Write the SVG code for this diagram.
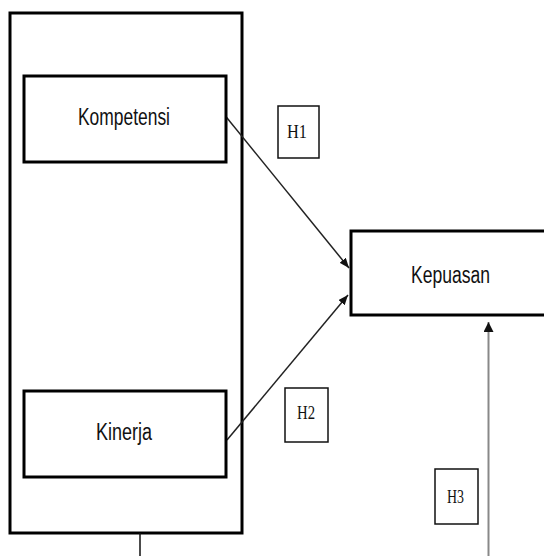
<svg xmlns="http://www.w3.org/2000/svg" width="544" height="556" viewBox="0 0 544 556">
<defs>
<marker id="ah" markerWidth="10" markerHeight="8" refX="10" refY="4" orient="auto" markerUnits="userSpaceOnUse">
<path d="M0,0 L10,4 L0,8 z" fill="#111"/>
</marker>
<marker id="ahg" markerWidth="10" markerHeight="10" refX="10" refY="5" orient="auto" markerUnits="userSpaceOnUse">
<path d="M0,0 L10,5 L0,10 z" fill="#111"/>
</marker>
<style>
.big{fill:#fff;stroke:#000;stroke-width:3}
.h{fill:#fff;stroke:#111;stroke-width:1.5}
.lbl{font-family:"Liberation Sans",Arial,sans-serif;font-size:23px;fill:#111;text-anchor:middle}
.hl{font-family:"Liberation Serif","Times New Roman",serif;font-size:18px;fill:#111;text-anchor:middle}
.c{fill:none;stroke:#222;stroke-width:1.5}
</style>
</defs>
<rect width="544" height="556" fill="#fff"/>
<g id="frame">
<rect class="big" x="10" y="13" width="232" height="520"/>
</g>
<g id="connectors">
<line x1="140" y1="533" x2="140" y2="556" stroke="#111" stroke-width="1.5"/>
<line class="c" x1="223" y1="113" x2="349" y2="268" marker-end="url(#ah)"/>
<line class="c" x1="227" y1="440" x2="348" y2="295" marker-end="url(#ah)"/>
<line x1="488.5" y1="556" x2="488.5" y2="322" stroke="#888" stroke-width="2" marker-end="url(#ahg)"/>
</g>
<g id="kompetensi">
<rect class="big" x="24" y="76" width="202" height="86"/>
<text class="lbl" x="124" y="124.5" textLength="92" lengthAdjust="spacingAndGlyphs">Kompetensi</text>
</g>
<g id="kinerja">
<rect class="big" x="24" y="391" width="202" height="86"/>
<text class="lbl" x="124" y="440" textLength="56" lengthAdjust="spacingAndGlyphs">Kinerja</text>
</g>
<g id="kepuasan">
<rect class="big" x="351" y="231" width="200" height="84"/>
<text class="lbl" x="450.5" y="283" textLength="79" lengthAdjust="spacingAndGlyphs">Kepuasan</text>
</g>
<g id="h1">
<rect class="h" x="278" y="106" width="41" height="52"/>
<text class="hl" x="297" y="138" textLength="20" lengthAdjust="spacingAndGlyphs">H1</text>
</g>
<g id="h2">
<rect class="h" x="285" y="388" width="43" height="54"/>
<text class="hl" x="306" y="419" textLength="18" lengthAdjust="spacingAndGlyphs">H2</text>
</g>
<g id="h3">
<rect class="h" x="435" y="469" width="43" height="55"/>
<text class="hl" x="455.5" y="503" textLength="17" lengthAdjust="spacingAndGlyphs">H3</text>
</g>
</svg>
